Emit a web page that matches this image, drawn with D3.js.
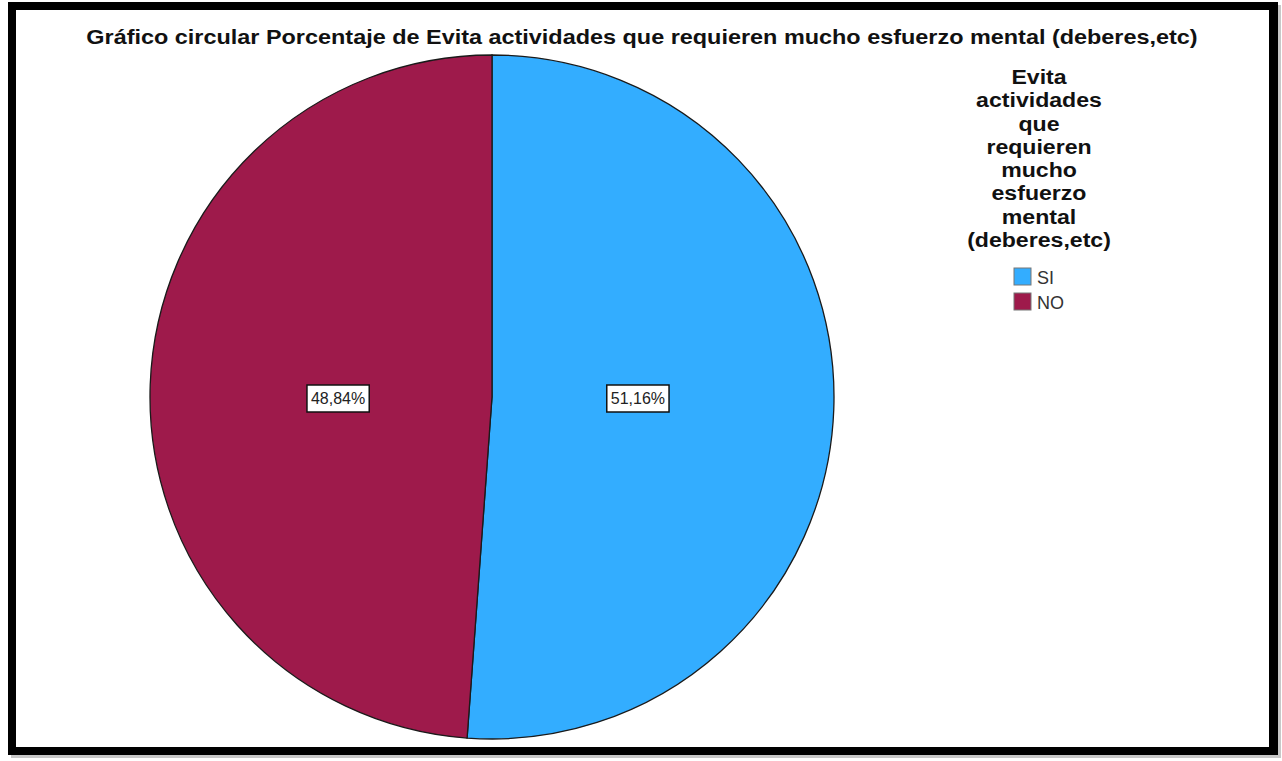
<!DOCTYPE html>
<html>
<head>
<meta charset="utf-8">
<script src="https://cdn.jsdelivr.net/npm/d3@7"></script>
<style>
  html, body { margin: 0; padding: 0; background: #ffffff; }
  svg { display: block; }
</style>
</head>
<body>
<svg id="chart" width="1282" height="761"></svg>
<script>
// Chart data
const categories = ["SI", "NO"];
const percentages = [51.16, 48.84];
const colors = ["#33adff", "#9e1a4b"];
const chartTitle = "Gráfico circular Porcentaje de Evita actividades que requieren mucho esfuerzo mental (deberes,etc)";
const legendTitleLines = ["Evita", "actividades", "que", "requieren", "mucho", "esfuerzo", "mental", "(deberes,etc)"];

const W = 1282, H = 761;
const svg = d3.select("#chart");
const FONT = "Liberation Sans, Arial, sans-serif";

// Frame: soft shadow, thick black border, white plotting area
svg.append("rect").attr("x", 11).attr("y", 5).attr("width", 1270).attr("height", 753).attr("fill", "#c8c8c8");
svg.append("rect").attr("x", 8).attr("y", 2).attr("width", 1270).attr("height", 753).attr("fill", "#000");
svg.append("rect").attr("x", 16).attr("y", 10).attr("width", 1253).attr("height", 737).attr("fill", "#fff");

// Title (wide bold face: stretched horizontally to span the plot)
const titleG = svg.append("g").attr("transform", "translate(642,44)");
const title = titleG.append("text")
  .attr("x", 0).attr("y", 0)
  .attr("text-anchor", "middle")
  .attr("font-family", FONT)
  .attr("font-weight", "bold")
  .attr("font-size", 20.5)
  .attr("fill", "#111")
  .text(chartTitle);
const titleW = title.node().getComputedTextLength();
title.attr("transform", `scale(${1112 / titleW},1)`);

// Pie
const cx = 492, cy = 397, R = 342;
const pie = d3.pie().sort(null).value(d => d.value).startAngle(0).endAngle(2 * Math.PI);
const data = categories.map((c, i) => ({ cat: c, value: percentages[i], color: colors[i] }));
const arcs = pie(data);
const arc = d3.arc().innerRadius(0).outerRadius(R);
const labelArc = d3.arc().innerRadius(150).outerRadius(150);

const g = svg.append("g").attr("transform", `translate(${cx},${cy})`);
g.selectAll("path.slice")
  .data(arcs)
  .join("path")
  .attr("class", "slice")
  .attr("d", arc)
  .attr("fill", d => d.data.color)
  .attr("stroke", "#1a1a1a")
  .attr("stroke-width", 1.3);

// Value labels in boxed tags, placed on the horizontal line through the centre
const locale = d3.formatLocale({ decimal: ",", thousands: ".", grouping: [3], currency: ["", "€"] });
const fmt = locale.format(".2f");

arcs.forEach(d => {
  const [lx] = labelArc.centroid(d);
  const lg = g.append("g").attr("transform", `translate(${lx - 4},1.5)`);
  const t = lg.append("text")
    .attr("text-anchor", "middle")
    .attr("dy", "0.35em")
    .attr("font-family", FONT)
    .attr("font-size", 16)
    .attr("fill", "#222")
    .text(fmt(d.data.value) + "%");
  const bb = t.node().getBBox();
  lg.insert("rect", "text")
    .attr("x", bb.x - 4).attr("y", -13.5)
    .attr("width", bb.width + 8).attr("height", 27)
    .attr("fill", "#fff")
    .attr("stroke", "#111")
    .attr("stroke-width", 1.5);
});

// Legend title
const legendX = 1039;
const lt = svg.append("text")
  .attr("transform", `translate(${legendX},0) scale(1.1,1)`)
  .attr("text-anchor", "middle")
  .attr("font-family", FONT)
  .attr("font-weight", "bold")
  .attr("font-size", 21)
  .attr("fill", "#111");
legendTitleLines.forEach((line, i) => {
  lt.append("tspan").attr("x", 0).attr("y", 84 + i * 23.3).text(line);
});

// Legend items
const items = svg.append("g").attr("transform", "translate(1014,268)");
const item = items.selectAll("g.item")
  .data(data)
  .join("g")
  .attr("class", "item")
  .attr("transform", (d, i) => `translate(0,${i * 25})`);
item.append("rect")
  .attr("width", 17).attr("height", 17)
  .attr("fill", d => d.color)
  .attr("stroke", "#777")
  .attr("stroke-width", 1);
item.append("text")
  .attr("x", 23).attr("y", 16)
  .attr("font-family", FONT)
  .attr("font-size", 18)
  .attr("fill", "#333")
  .text(d => d.cat);
</script>
</body>
</html>
